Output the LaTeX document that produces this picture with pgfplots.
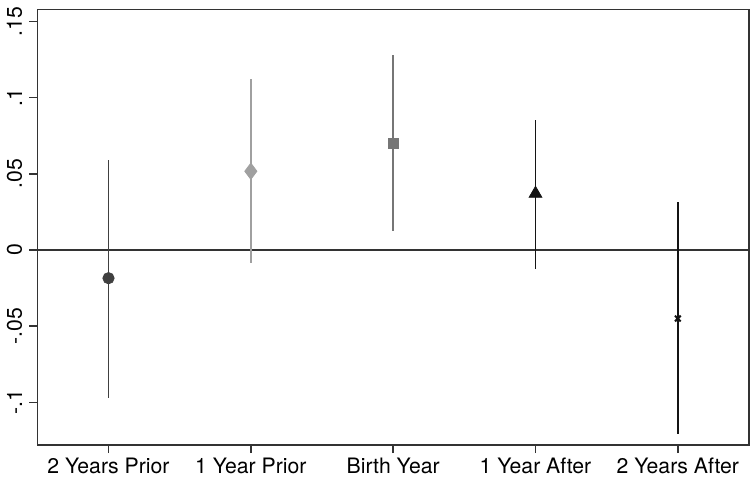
\documentclass[border=0pt]{standalone}
\usepackage{pgfplots}
\pgfplotsset{compat=1.18}
\usepackage{fontspec}
\setmainfont{TeX Gyre Heros}
\definecolor{darkg}{RGB}{64,64,64}
\definecolor{lightg}{RGB}{160,160,160}
\definecolor{midg}{RGB}{118,118,118}
\definecolor{blk}{RGB}{20,20,20}

\begin{document}
\begin{tikzpicture}
\begin{axis}[
    scale only axis,
    width=352pt, height=215.5pt,
    xmin=-0.5, xmax=4.5,
    ymin=-0.128, ymax=0.158,
    xtick={0,1,2,3,4},
    xticklabels={2 Years Prior, 1 Year Prior, Birth Year, 1 Year After, 2 Years After},
    ytick={-0.1,-0.05,0,0.05,0.1,0.15},
    yticklabels={-.1,-.05,0,.05,.1,.15},
    tick pos=left,
    tick align=outside,
    major tick length=4pt,
    tick style={line width=0.7pt, color=black!80},
    axis line style={line width=0.75pt, color=black!80},
    ticklabel style={font=\fontsize{10.5}{12}\selectfont},
    yticklabel style={rotate=90, anchor=south},
    xticklabel style={yshift=1pt},
    error bars/y dir=both,
    error bars/y explicit,
    error bars/error mark=none,
    clip=false,
]
\draw[line width=1pt, color=black!80] (axis cs:-0.5,0) -- (axis cs:4.5,0);
\addplot[only marks, mark=*, mark size=2.8pt, color=darkg,
    error bars/error bar style={line width=0.9pt, color=darkg}]
    coordinates {(0,-0.0185) += (0,0.0775) -= (0,0.0788)};
\addplot[only marks, mark=diamond*, mark size=4pt, color=lightg,
    error bars/error bar style={line width=0.9pt, color=lightg}]
    coordinates {(1,0.0517) += (0,0.0603) -= (0,0.0603)};
\addplot[only marks, mark=square*, mark size=2.6pt, color=midg,
    error bars/error bar style={line width=0.9pt, color=midg}]
    coordinates {(2,0.070) += (0,0.058) -= (0,0.0574)};
\addplot[only marks, mark=triangle*, mark size=3.6pt, color=blk,
    error bars/error bar style={line width=0.9pt, color=blk}]
    coordinates {(3,0.037) += (0,0.0484) -= (0,0.0496)};
\addplot[only marks, mark=x, mark size=2pt, color=blk, mark options={line width=1pt},
    error bars/error bar style={line width=0.9pt, color=blk}]
    coordinates {(4,-0.045) += (0,0.0768) -= (0,0.076)};
\end{axis}
\end{tikzpicture}
\end{document}
